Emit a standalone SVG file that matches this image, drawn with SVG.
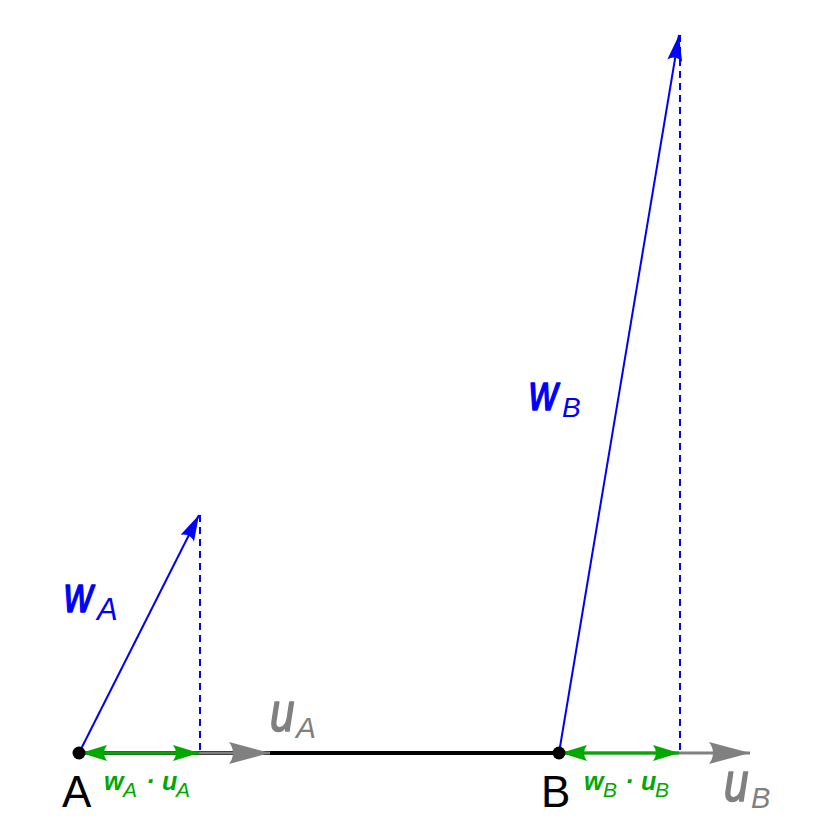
<svg xmlns="http://www.w3.org/2000/svg" width="840" height="840" viewBox="0 0 840 840">
<style>
text{font-family:"Liberation Sans",Arial,sans-serif}
.lbl{font-size:44px;fill:#000}
.vec{font-style:italic;font-weight:bold}
.big{font-style:italic;font-weight:normal;stroke-width:1.6;stroke-linejoin:round}
.sub{font-style:italic;font-weight:normal}
.blue{fill:#0000ff}
.gray{fill:#808080}
.green{fill:#00a800}
.big.blue{stroke:#0000ff}
.big.gray{stroke:#808080}
</style>
<defs>
<marker id="hg" markerUnits="userSpaceOnUse" markerWidth="48" markerHeight="24" viewBox="-44 -12 48 24" refX="0" refY="0" orient="auto">
<path d="M0,0 L-41,-11 Q-33,0 -41,11 Z" fill="#808080"/>
</marker>
<marker id="hgr" markerUnits="userSpaceOnUse" markerWidth="30" markerHeight="18" viewBox="-28 -9 30 18" refX="0" refY="0" orient="auto-start-reverse">
<path d="M0,0 L-26,-8 Q-20,0 -26,8 Z" fill="#00a800"/>
</marker>
<marker id="hb" markerUnits="userSpaceOnUse" markerWidth="30" markerHeight="18" viewBox="-28 -9 30 18" refX="0" refY="0" orient="auto">
<path d="M0,0 L-26,-7.5 Q-20,0 -26,7.5 Z" fill="#0000ff"/>
</marker>
</defs>
<g id="connectors">
<line x1="79" y1="753" x2="559" y2="753" stroke="#000" stroke-width="4"/>
<line x1="79" y1="753" x2="270" y2="753" stroke="#808080" stroke-width="3" marker-end="url(#hg)"/>
<line x1="559" y1="753" x2="750" y2="753" stroke="#808080" stroke-width="3" marker-end="url(#hg)"/>
<line x1="200" y1="515" x2="200" y2="753" stroke="#0000ff" stroke-width="2" stroke-dasharray="7,5"/>
<line x1="680" y1="35" x2="680" y2="753" stroke="#0000ff" stroke-width="2" stroke-dasharray="7,5"/>
<line x1="81" y1="753" x2="199" y2="753" stroke="#00a800" stroke-width="3" marker-start="url(#hgr)" marker-end="url(#hgr)"/>
<line x1="561" y1="753" x2="679" y2="753" stroke="#00a800" stroke-width="3" marker-start="url(#hgr)" marker-end="url(#hgr)"/>
<line x1="79" y1="753" x2="199" y2="515" stroke="#0000ff" stroke-width="2" marker-end="url(#hb)"/>
<line x1="559" y1="753" x2="679" y2="35" stroke="#0000ff" stroke-width="2" marker-end="url(#hb)"/>
</g>
<g id="A">
<circle cx="79" cy="753" r="6.5" fill="#000"/>
<text class="lbl" x="62" y="807">A</text>
</g>
<g id="B">
<circle cx="559" cy="753" r="6.5" fill="#000"/>
<text class="lbl" x="541" y="807">B</text>
</g>
<g id="labels">
<text class="big blue" font-size="50" transform="translate(64,612) scale(0.8,1)">w</text>
<text class="sub blue" font-size="31" x="97" y="620">A</text>
<text class="big blue" font-size="50" transform="translate(529,410) scale(0.8,1)">w</text>
<text class="sub blue" font-size="28" x="562" y="417">B</text>
<text class="big gray" font-size="55" transform="translate(270,731) scale(0.8,1)">u</text>
<text class="sub gray" font-size="30" x="296" y="738">A</text>
<text class="big gray" font-size="55" transform="translate(724,801) scale(0.8,1)">u</text>
<text class="sub gray" font-size="29" x="751" y="808">B</text>
<text class="vec green" font-size="25" x="104" y="790">w</text>
<text class="sub green" font-size="21" x="123" y="797">A</text>
<text class="vec green" font-size="26" x="146" y="790">·</text>
<text class="vec green" font-size="25" x="162" y="790">u</text>
<text class="sub green" font-size="21" x="176" y="797">A</text>
<text class="vec green" font-size="25" x="584" y="790">w</text>
<text class="sub green" font-size="21" x="603" y="797">B</text>
<text class="vec green" font-size="26" x="625" y="790">·</text>
<text class="vec green" font-size="25" x="641" y="790">u</text>
<text class="sub green" font-size="21" x="655" y="797">B</text>
</g>
</svg>
